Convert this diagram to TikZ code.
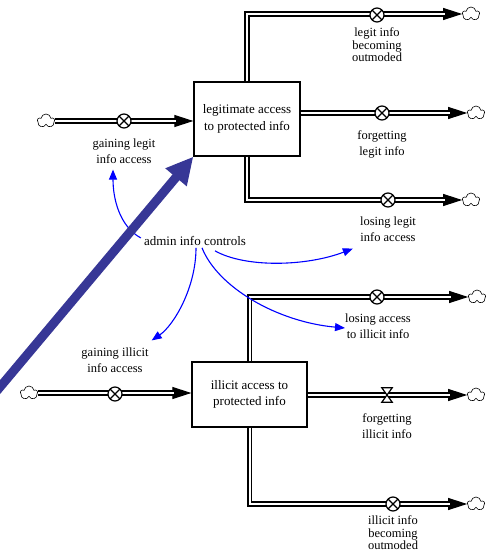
\documentclass[tikz,border=0pt]{standalone}
\usepackage{fontspec}
\setmainfont{Liberation Serif}
\usetikzlibrary{arrows.meta,shapes.symbols}
\definecolor{navyband}{RGB}{55,55,150}
\begin{document}
\begin{tikzpicture}[x=1pt,y=-1pt,
  stock/.style={draw, line width=1.3pt, fill=white, inner sep=0pt, align=center,
    font=\fontsize{13}{16.5}\selectfont},
  valve/.style={circle, draw, fill=white, line width=1.2pt, minimum size=14pt, inner sep=0pt,
    path picture={\draw[line width=1.2pt]
      (path picture bounding box.north west) -- (path picture bounding box.south east)
      (path picture bounding box.north east) -- (path picture bounding box.south west);}},
  hourglass/.style={minimum width=10pt, minimum height=14pt, inner sep=0pt},
  cloudnode/.style={cloud, cloud puffs=5, cloud puff arc=165, aspect=1.2, draw, fill=white,
    line width=0.6pt, minimum width=17pt, minimum height=14pt, inner sep=0pt},
  pipe/.style={line width=1.7pt, double=white, double distance=2pt, shorten >=17pt},
  flowtip/.style={line width=1pt, -{Triangle[length=19pt,width=12pt]}},
  lbl/.style={align=center, inner sep=1pt, font=\fontsize{12.5}{16}\selectfont},
  lblthree/.style={align=center, inner sep=1pt, font=\fontsize{12.5}{12.5}\selectfont},
  info/.style={blue, line width=1.1pt, -{Triangle[length=10pt,width=8pt]}},
  bigarrow/.style={navyband, line width=9pt, -{Triangle[length=27pt,width=26pt]}}
]
\useasboundingbox (0,0) rectangle (485,553);

% stocks
\node[stock, minimum width=106pt, minimum height=74pt] (stockA) at (247,119)
  {legitimate access\\to protected info};
\node[stock, minimum width=115pt, minimum height=65pt] (stockB) at (249.5,394.5)
  {illicit access to\\protected info};

% clouds
\node[cloudnode] (cGL) at (46,121) {};
\node[cloudnode] (cLU) at (471,14) {};
\node[cloudnode] (cLM) at (476,113) {};
\node[cloudnode] (cLL) at (471,200) {};
\node[cloudnode] (cGI) at (29,393) {};
\node[cloudnode] (cLI) at (477,297) {};
\node[cloudnode] (cFI) at (476,395) {};
\node[cloudnode] (cIO) at (476,504) {};

% flow arrowheads (thin line under the pipes)
\draw[flowtip] (cGL.east) -- (stockA.west |- cGL.east);
\draw[flowtip] (stockA.north) |- (cLU.west);
\draw[flowtip] (stockA.east |- cLM.west) -- (cLM.west);
\draw[flowtip] (stockA.south) |- (cLL.west);
\draw[flowtip] (cGI.east) -- (stockB.west |- cGI.east);
\draw[flowtip] (stockB.north) |- (cLI.west);
\draw[flowtip] (stockB.east |- cFI.west) -- (cFI.west);
\draw[flowtip] (stockB.south) |- (cIO.west);

% pipes
\draw[pipe] (cGL.east) -- (stockA.west |- cGL.east);
\draw[pipe] (stockA.north) |- (cLU.west);
\draw[pipe] (stockA.east |- cLM.west) -- (cLM.west);
\draw[pipe] (stockA.south) |- (cLL.west);
\draw[pipe] (cGI.east) -- (stockB.west |- cGI.east);
\draw[pipe] (stockB.north) |- (cLI.west);
\draw[pipe] (stockB.east |- cFI.west) -- (cFI.west);
\draw[pipe] (stockB.south) |- (cIO.west);

% valves
\node[valve] (vGL) at (124,121) {};
\node[valve] (vLU) at (377,15) {};
\node[valve] (vLM) at (382,113) {};
\node[valve] (vLL) at (388,200) {};
\node[valve] (vGI) at (115,394) {};
\node[valve] (vLI) at (377,297) {};
\node[hourglass] (vFI) at (387,395) {};
\draw[line width=1.2pt, fill=white, line join=miter]
  (vFI.north west) -- (vFI.north east) -- (vFI.south west) -- (vFI.south east) -- cycle;
\node[valve] (vIO) at (393,504) {};

% labels
\node[lblthree] (labLU) at (377,45) {legit info\\becoming\\outmoded};
\node[lbl] (labLM) at (382,144) {forgetting\\legit info};
\node[lbl] (labLL) at (388,229) {losing legit\\info access};
\node[lbl] (labGL) at (124,151) {gaining legit\\info access};
\node[lbl] (labGI) at (115,360) {gaining illicit\\info access};
\node[lbl] (labLI) at (378,326) {losing access\\to illicit info};
\node[lbl] (labFI) at (387,426) {forgetting\\illicit info};
\node[lblthree] (labIO) at (393,533) {illicit info\\becoming\\outmoded};

\node[inner sep=1pt, font=\fontsize{13}{16}\selectfont] (admin) at (195,241) {admin info controls};

% information arrows
\draw[info] ([shift={(-2,-3)}]admin.west) .. controls +(-22,-12) and +(0,28) ..
  ([shift={(-11,5)}]labGL.south);
\draw[info] ([shift={(20,4)}]admin.south) .. controls +(30,17) and +(-47,18) ..
  ([shift={(-6,6)}]labLL.south west);
\draw[info] ([shift={(1,1)}]admin.south) .. controls +(0,40) and +(22,-15) ..
  ([shift={(2,-6)}]labGI.north east);
\draw[info] ([shift={(7,1)}]admin.south) .. controls +(16,40) and +(-67,-6) ..
  ([shift={(1,2)}]labLI.west);

% big arrow
\coordinate (bigstart) at (-10,399);
\draw[bigarrow] (bigstart) -- (stockA.south west);
\end{tikzpicture}
\end{document}
